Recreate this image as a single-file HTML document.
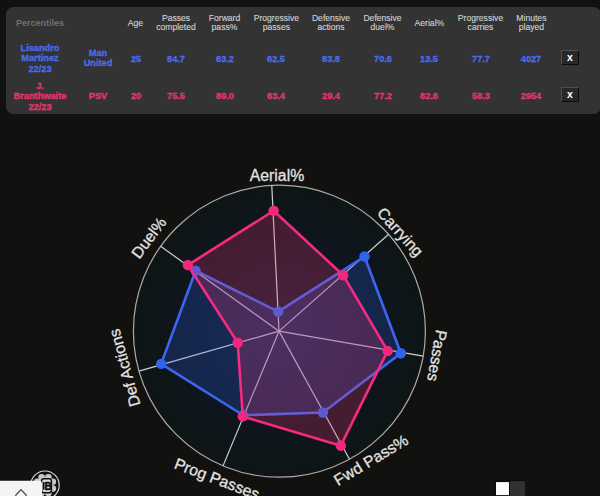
<!DOCTYPE html>
<html><head><meta charset="utf-8">
<style>
html,body{margin:0;padding:0;width:600px;height:496px;overflow:hidden;background:#11110f;font-family:"Liberation Sans",sans-serif;}
#panel{position:absolute;left:6px;top:6.8px;width:594.5px;height:106.9px;background:#333333;border-radius:7.5px;}
.t{position:absolute;white-space:nowrap;text-align:center;transform:translateX(-50%);}
.h{color:#d4d4d4;font-size:8.6px;line-height:9.6px;-webkit-text-stroke:0.1px #d4d4d4;}
.b{color:#4a6cf2;font-weight:bold;font-size:9.6px;line-height:10.3px;transform:translateX(-50%) scaleX(0.96);-webkit-text-stroke:0.3px currentColor;}
.p{color:#e8336f;font-weight:bold;font-size:9.6px;line-height:10.3px;transform:translateX(-50%) scaleX(0.96);-webkit-text-stroke:0.3px currentColor;}
.x{position:absolute;left:561.2px;width:17.5px;height:15.4px;box-sizing:border-box;background:#282828;border-top:1px solid #4e4e4e;border-left:1px solid #4e4e4e;border-right:1.5px solid #0c0c0c;border-bottom:1.5px solid #0c0c0c;color:#fff;font-weight:bold;font-size:10.5px;line-height:12px;text-align:center;}
svg{position:absolute;left:0;top:0;}
</style></head><body><div id="wrap" style="position:absolute;left:0;top:0;width:600px;height:496px;overflow:hidden;">
<div id="panel"></div>
<div class="t" style="left:40px;top:18px;color:#707070;font-weight:bold;font-size:9px;transform:none;left:16px;">Percentiles</div>
<div class="t h" style="left:135.5px;top:19.3px;">Age</div>
<div class="t h" style="left:176px;top:13.9px;">Passes<br>completed</div>
<div class="t h" style="left:224.5px;top:13.9px;">Forward<br>pass%</div>
<div class="t h" style="left:276.4px;top:13.9px;">Progressive<br>passes</div>
<div class="t h" style="left:331px;top:13.9px;">Defensive<br>actions</div>
<div class="t h" style="left:382.5px;top:13.9px;">Defensive<br>duel%</div>
<div class="t h" style="left:429.4px;top:19.3px;">Aerial%</div>
<div class="t h" style="left:480.5px;top:13.9px;">Progressive<br>carries</div>
<div class="t h" style="left:531.4px;top:13.9px;">Minutes<br>played</div>

<div class="t b" style="left:40.4px;top:43.2px;">Lisandro<br>Martinez<br>22/23</div>
<div class="t b" style="left:98px;top:47.8px;">Man<br>United</div>
<div class="t b" style="left:135.5px;top:53.6px;">25</div>
<div class="t b" style="left:176px;top:53.6px;">84.7</div>
<div class="t b" style="left:224.5px;top:53.6px;">63.2</div>
<div class="t b" style="left:276.4px;top:53.6px;">62.5</div>
<div class="t b" style="left:331px;top:53.6px;">83.8</div>
<div class="t b" style="left:382.5px;top:53.6px;">70.6</div>
<div class="t b" style="left:429.4px;top:53.6px;">13.5</div>
<div class="t b" style="left:480.5px;top:53.6px;">77.7</div>
<div class="t b" style="left:531.4px;top:53.6px;">4027</div>
<div class="x" style="top:50px;">x</div>

<div class="t p" style="left:40.4px;top:81px;">J.<br>Branthwaite<br>22/23</div>
<div class="t p" style="left:98px;top:90.6px;">PSV</div>
<div class="t p" style="left:135.5px;top:91.3px;">20</div>
<div class="t p" style="left:176px;top:91.3px;">75.5</div>
<div class="t p" style="left:224.5px;top:91.3px;">89.0</div>
<div class="t p" style="left:276.4px;top:91.3px;">63.4</div>
<div class="t p" style="left:331px;top:91.3px;">29.4</div>
<div class="t p" style="left:382.5px;top:91.3px;">77.2</div>
<div class="t p" style="left:429.4px;top:91.3px;">82.6</div>
<div class="t p" style="left:480.5px;top:91.3px;">58.3</div>
<div class="t p" style="left:531.4px;top:91.3px;">2954</div>
<div class="x" style="top:87px;">x</div>

<svg width="600" height="496" viewBox="0 0 600 496">
<defs>
<radialGradient id="bg" cx="279.4" cy="331.2" r="146" gradientUnits="userSpaceOnUse">
<stop offset="0" stop-color="#111e30"/>
<stop offset="0.7" stop-color="#0e151d"/>
<stop offset="1" stop-color="#0f1515"/>
</radialGradient>
</defs>
<circle cx="279.4" cy="331.2" r="146" fill="url(#bg)" stroke="#ababab" stroke-width="1.2"/>
<g stroke="#cfcfcf" stroke-width="1.2">
<line x1="279.0" y1="331.15" x2="271.76" y2="185.40"/>
<line x1="279.0" y1="331.15" x2="388.63" y2="234.32"/>
<line x1="279.0" y1="331.15" x2="423.24" y2="356.19"/>
<line x1="279.0" y1="331.15" x2="349.54" y2="459.25"/>
<line x1="279.0" y1="331.15" x2="223.02" y2="465.88"/>
<line x1="279.0" y1="331.15" x2="138.96" y2="371.09"/>
<line x1="279.0" y1="331.15" x2="160.64" y2="246.27"/>
</g>
<polygon points="278.20,311.57 364.51,256.55 400.83,353.28 322.89,412.52 243.28,415.23 161.14,363.91 195.64,270.72" fill="rgba(48,101,242,0.22)" stroke="#3d66f0" stroke-width="2.6" stroke-linejoin="round"/>
<g fill="#3064ec"><circle cx="278.20" cy="311.57" r="5.2"/><circle cx="364.51" cy="256.55" r="5.2"/><circle cx="400.83" cy="353.28" r="5.2"/><circle cx="322.89" cy="412.52" r="5.2"/><circle cx="243.28" cy="415.23" r="5.2"/><circle cx="161.14" cy="363.91" r="5.2"/><circle cx="195.64" cy="270.72" r="5.2"/></g>
<polygon points="273.61,210.76 343.18,275.21 387.61,350.89 340.77,445.69 242.76,416.44 237.72,342.72 187.84,265.06" fill="rgba(247,56,118,0.235)" stroke="#f52a80" stroke-width="2.6" stroke-linejoin="round"/>
<g fill="#f5267d"><circle cx="273.61" cy="210.76" r="5.2"/><circle cx="343.18" cy="275.21" r="5.2"/><circle cx="387.61" cy="350.89" r="5.2"/><circle cx="340.77" cy="445.69" r="5.2"/><circle cx="242.76" cy="416.44" r="5.2"/><circle cx="237.72" cy="342.72" r="5.2"/><circle cx="187.84" cy="265.06" r="5.2"/></g>
<g fill="#e2e2e2" font-family="Liberation Sans" font-size="15.8" text-anchor="middle" dominant-baseline="central" stroke="#e2e2e2" stroke-width="0.3">
<text x="277" y="175.3">Aerial%</text>
<text x="400.3" y="232" transform="rotate(48 400.3 232)">Carrying</text>
<text x="437.1" y="355.7" transform="rotate(100 437.1 355.7)">Passes</text>
<text x="371" y="460" transform="rotate(-31 371 460)">Fwd Pass%</text>
<text x="217" y="478.8" transform="rotate(21 217 478.8)">Prog Passes</text>
<text x="124.6" y="367.8" transform="rotate(-105.5 124.6 367.8)">Def Actions</text>
<text x="148.8" y="237.8" transform="rotate(-53 148.8 237.8)">Duel%</text>
</g>
<!-- bottom left tab -->
<circle cx="45" cy="485.2" r="14.2" fill="#121212" stroke="#d4d4d4" stroke-width="1.2"/>
<g fill="#c8c8c8">
<circle cx="41.6" cy="477.4" r="3.3"/><circle cx="48.4" cy="477.4" r="3.3"/>
<circle cx="52.8" cy="481.8" r="3.3"/><circle cx="52.8" cy="488.6" r="3.3"/>
<circle cx="48.4" cy="493" r="3.3"/><circle cx="41.6" cy="493" r="3.3"/>
<circle cx="37.2" cy="481.8" r="3.3"/><circle cx="37.2" cy="488.6" r="3.3"/>
<circle cx="45" cy="485.2" r="8"/>
</g>
<rect x="41.6" y="478.8" width="9.8" height="14" rx="2.2" fill="#dcdcdc" stroke="#0d0d0d" stroke-width="1.5"/>
<rect x="43" y="482" width="1.5" height="7.6" fill="#0d0d0d"/>
<text x="48" y="489.6" font-family="Liberation Sans" font-weight="bold" font-size="10" fill="#0d0d0d" stroke="#0d0d0d" stroke-width="0.5" text-anchor="middle">B</text>
<path d="M0 480.8 H38.8 Q42 480.8 42 484 V496 H0 Z" fill="#f4f4f4"/>
<path d="M15.3 495.8 L21 489.6 L26.7 495.8" fill="none" stroke="#4a4a4a" stroke-width="1.3"/>
<!-- toggle -->
<rect x="494.3" y="480" width="31.3" height="17" fill="#0b0b0b"/>
<rect x="510" y="481.2" width="15.2" height="16" fill="#313131"/>
<rect x="496" y="482.1" width="13" height="13" fill="#fafafa"/>
</svg>
</div></body></html>
